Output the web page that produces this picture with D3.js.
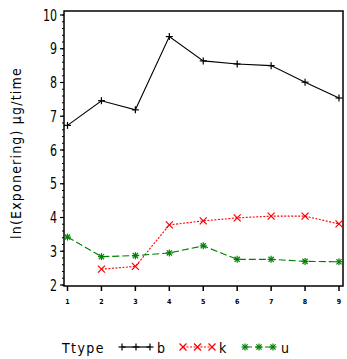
<!DOCTYPE html>
<html>
<head>
<meta charset="utf-8">
<script src="https://cdn.jsdelivr.net/npm/d3@7"></script>
<style>
  html, body { margin: 0; padding: 0; background: #fff; }
  svg { display: block; }
  .narrow { font-family: "Liberation Sans Narrow", "DejaVu Sans Condensed", "Liberation Sans", sans-serif; }
</style>
</head>
<body>
<svg id="chart" width="347" height="359"></svg>
<script>
// Measurement occasions 1..9
const periods = [1, 2, 3, 4, 5, 6, 7, 8, 9];
// ln(exposure) per type; null = no measurement
const seriesB = [6.73, 7.46, 7.19, 9.36, 8.64, 8.55, 8.50, 8.01, 7.54];
const seriesK = [null, 2.47, 2.55, 3.78, 3.90, 3.99, 4.04, 4.04, 3.81];
const seriesU = [3.42, 2.84, 2.87, 2.95, 3.16, 2.76, 2.76, 2.70, 2.69];
const yTicks = [2, 3, 4, 5, 6, 7, 8, 9, 10];
const typeNames = ["b", "k", "u"];
const typeColors = ["#000000", "#ff0000", "#008000"];

const svg = d3.select("#chart");
const frame = { left: 64, top: 11, right: 343, bottom: 286 };

const x = d3.scaleLinear().domain([1, 9]).range([67.5, 339]);
const y = d3.scaleLinear().domain([2, 10]).range([285, 15]);

// frame
svg.append("rect")
  .attr("x", frame.left).attr("y", frame.top)
  .attr("width", frame.right - frame.left).attr("height", frame.bottom - frame.top)
  .attr("fill", "none").attr("stroke", "#000").attr("stroke-width", 1.5);

// y axis: major ticks with labels, minor ticks every 0.2
const yAxis = svg.append("g").attr("transform", `translate(${frame.left},0)`);
const minor = d3.range(2, 10.001, 0.2);
yAxis.selectAll("line.minor").data(minor).enter().append("line")
  .attr("x1", -2).attr("x2", 0)
  .attr("y1", d => y(d)).attr("y2", d => y(d))
  .attr("stroke", "#000").attr("stroke-width", 1);
yAxis.selectAll("line.major").data(yTicks).enter().append("line")
  .attr("x1", -4).attr("x2", 0)
  .attr("y1", d => y(d)).attr("y2", d => y(d))
  .attr("stroke", "#000").attr("stroke-width", 1.2);
yAxis.selectAll("text").data(yTicks).enter().append("text")
  .attr("class", "narrow")
  .attr("transform", d => `translate(-7,${y(d)}) scale(0.82,1.05)`)
  .attr("dy", "0.36em")
  .attr("text-anchor", "end")
  .attr("font-size", 15)
  .attr("fill", "#000")
  .text(d => d);

// x axis ticks and labels
const xAxis = svg.append("g").attr("transform", `translate(0,${frame.bottom})`);
xAxis.selectAll("line").data(periods).enter().append("line")
  .attr("x1", d => x(d)).attr("x2", d => x(d))
  .attr("y1", 0).attr("y2", 5)
  .attr("stroke", "#000").attr("stroke-width", 1.5);
xAxis.selectAll("text").data(periods).enter().append("text")
  .attr("class", "narrow")
  .attr("x", d => x(d)).attr("y", 18)
  .attr("text-anchor", "middle")
  .attr("font-size", 7)
  .attr("font-weight", "bold")
  .attr("fill", "#000")
  .text(d => d);

// y title
svg.append("text")
  .attr("class", "narrow")
  .attr("transform", "translate(21,153) rotate(-90)")
  .attr("text-anchor", "middle")
  .attr("font-size", 14)
  .attr("letter-spacing", 1.2)
  .attr("fill", "#000")
  .text("ln(Exponering) µg/time");

// marker shapes
function marker(g, kind, cx, cy, color) {
  const s = 3.5;
  const p = [];
  if (kind === "plus" || kind === "star") {
    p.push([cx - s, cy, cx + s, cy], [cx, cy - s, cx, cy + s]);
  }
  if (kind === "x" || kind === "star") {
    const t = kind === "star" ? 2.6 : s;
    p.push([cx - t, cy - t, cx + t, cy + t], [cx - t, cy + t, cx + t, cy - t]);
  }
  p.forEach(l => g.append("line")
    .attr("x1", l[0]).attr("y1", l[1]).attr("x2", l[2]).attr("y2", l[3])
    .attr("stroke", color).attr("stroke-width", 1.2));
}

const series = [
  { values: seriesB, color: typeColors[0], dash: null, kind: "plus" },
  { values: seriesK, color: typeColors[1], dash: "2,1.5", kind: "x" },
  { values: seriesU, color: typeColors[2], dash: "7,3", kind: "star" }
];

const line = d3.line()
  .defined(d => d.v !== null)
  .x(d => x(d.p)).y(d => y(d.v));

series.forEach(s => {
  const pts = periods.map((p, i) => ({ p, v: s.values[i] }));
  svg.append("path")
    .datum(pts)
    .attr("d", line)
    .attr("fill", "none")
    .attr("stroke", s.color)
    .attr("stroke-width", 1.1)
    .attr("stroke-dasharray", s.dash);
  const g = svg.append("g");
  pts.filter(d => d.v !== null).forEach(d => marker(g, s.kind, x(d.p), y(d.v), s.color));
});

// legend
const leg = svg.append("g");
leg.append("text")
  .attr("class", "narrow")
  .attr("x", 62).attr("y", 353)
  .attr("font-size", 14)
  .attr("letter-spacing", 1.4)
  .attr("fill", "#000")
  .text("Ttype");
const legItems = [
  { x0: 122, x1: 150, lx: 157, s: series[0], name: typeNames[0] },
  { x0: 183, x1: 212, lx: 219, s: series[1], name: typeNames[1] },
  { x0: 245, x1: 273, lx: 281, s: series[2], name: typeNames[2] }
];
legItems.forEach(it => {
  const ly = 347;
  leg.append("line")
    .attr("x1", it.x0).attr("x2", it.x1).attr("y1", ly).attr("y2", ly)
    .attr("stroke", it.s.color).attr("stroke-width", 1.2)
    .attr("stroke-dasharray", it.s.dash);
  [it.x0, (it.x0 + it.x1) / 2, it.x1].forEach(mx => marker(leg, it.s.kind, mx, ly, it.s.color));
  leg.append("text")
    .attr("class", "narrow")
    .attr("x", it.lx).attr("y", 353)
    .attr("font-size", 14)
    .attr("fill", "#000")
    .text(it.name);
});
</script>
</body>
</html>
